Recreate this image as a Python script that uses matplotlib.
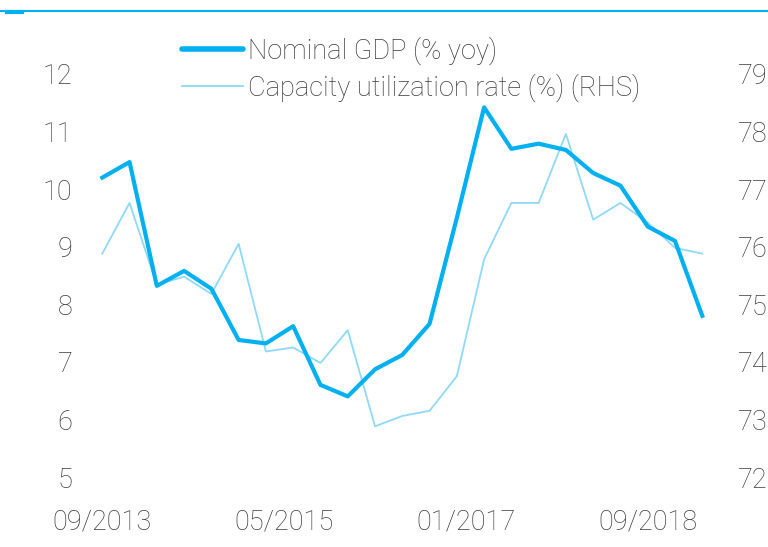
import matplotlib
matplotlib.use("Agg")
import matplotlib.pyplot as plt
from matplotlib.lines import Line2D

# quarterly observations, 09/2013 .. 03/2019 (months since 09/2013)
months = list(range(0, 67, 3))
nominal_gdp = [10.2, 10.47, 8.32, 8.58, 8.27, 7.38, 7.32, 7.62, 6.6, 6.4, 6.87,
               7.12, 7.66, 9.5, 11.42, 10.7, 10.79, 10.68, 10.28, 10.06, 9.35,
               9.1, 7.8]
capacity_util = [75.88, 76.76, 75.34, 75.48, 75.18, 76.05, 74.18, 74.25, 73.98,
                 74.55, 72.88, 73.06, 73.15, 73.75, 75.78, 76.76, 76.76, 77.96,
                 76.47, 76.76, 76.42, 75.98, 75.88]

xtick_months = [0, 20, 40, 60]
xtick_labels = ["09/2013", "05/2015", "01/2017", "09/2018"]
left_ticks = [5, 6, 7, 8, 9, 10, 11, 12]
right_ticks = [72, 73, 74, 75, 76, 77, 78, 79]

GDP_BLUE = "#00b0f0"
CU_BLUE = "#8fd9fa"
TXT = "#3c3c3c"

plt.rcParams["font.family"] = ["Roboto", "DejaVu Sans"]
plt.rcParams["font.weight"] = "light"

fig = plt.figure(figsize=(7.68, 5.47), dpi=100)
ax = fig.add_axes([85 / 768, 70 / 547, 640 / 768, 403 / 547])
ax2 = ax.twinx()

ax2.plot(months, capacity_util, color=CU_BLUE, lw=1.3, zorder=2)
ax.plot(months, nominal_gdp, color=GDP_BLUE, lw=3.0, solid_joinstyle="round",
        zorder=3)
ax.set_zorder(ax2.get_zorder() + 1)
ax.patch.set_visible(False)

ax.set_xlim(-1.9, 68.5)
ax.set_ylim(5, 12)
ax2.set_ylim(72, 79)
ax.set_yticks(left_ticks)
ax2.set_yticks(right_ticks)
ax.set_xticks(xtick_months)
ax.set_xticklabels(xtick_labels)

for a in (ax, ax2):
    for s in a.spines.values():
        s.set_visible(False)
    a.tick_params(length=0, labelsize=19.5, labelcolor=TXT)
ax.tick_params(axis="y", pad=9)
ax2.tick_params(axis="y", pad=9)
ax.tick_params(axis="x", pad=23)

handles = [
    Line2D([], [], color=GDP_BLUE, lw=4, solid_capstyle="round"),
    Line2D([], [], color=CU_BLUE, lw=1.3),
]
fig.legend(handles, ["Nominal GDP (% yoy)", "Capacity utilization rate (%) (RHS)"],
           loc="upper left", bbox_to_anchor=(171 / 768, 1 - 25.5 / 547),
           frameon=False, fontsize=19.6, labelcolor=TXT, handlelength=2.23,
           handletextpad=0.2, labelspacing=0.33, borderaxespad=0)

# header rule
fig.add_artist(Line2D([0, 1], [1 - 10.5 / 547] * 2, color=GDP_BLUE, lw=1.5,
                      transform=fig.transFigure))
fig.add_artist(Line2D([7 / 768, 22 / 768], [1 - 11.5 / 547] * 2, color=GDP_BLUE,
                      lw=3, transform=fig.transFigure))

fig.savefig("out.png", dpi=100)
